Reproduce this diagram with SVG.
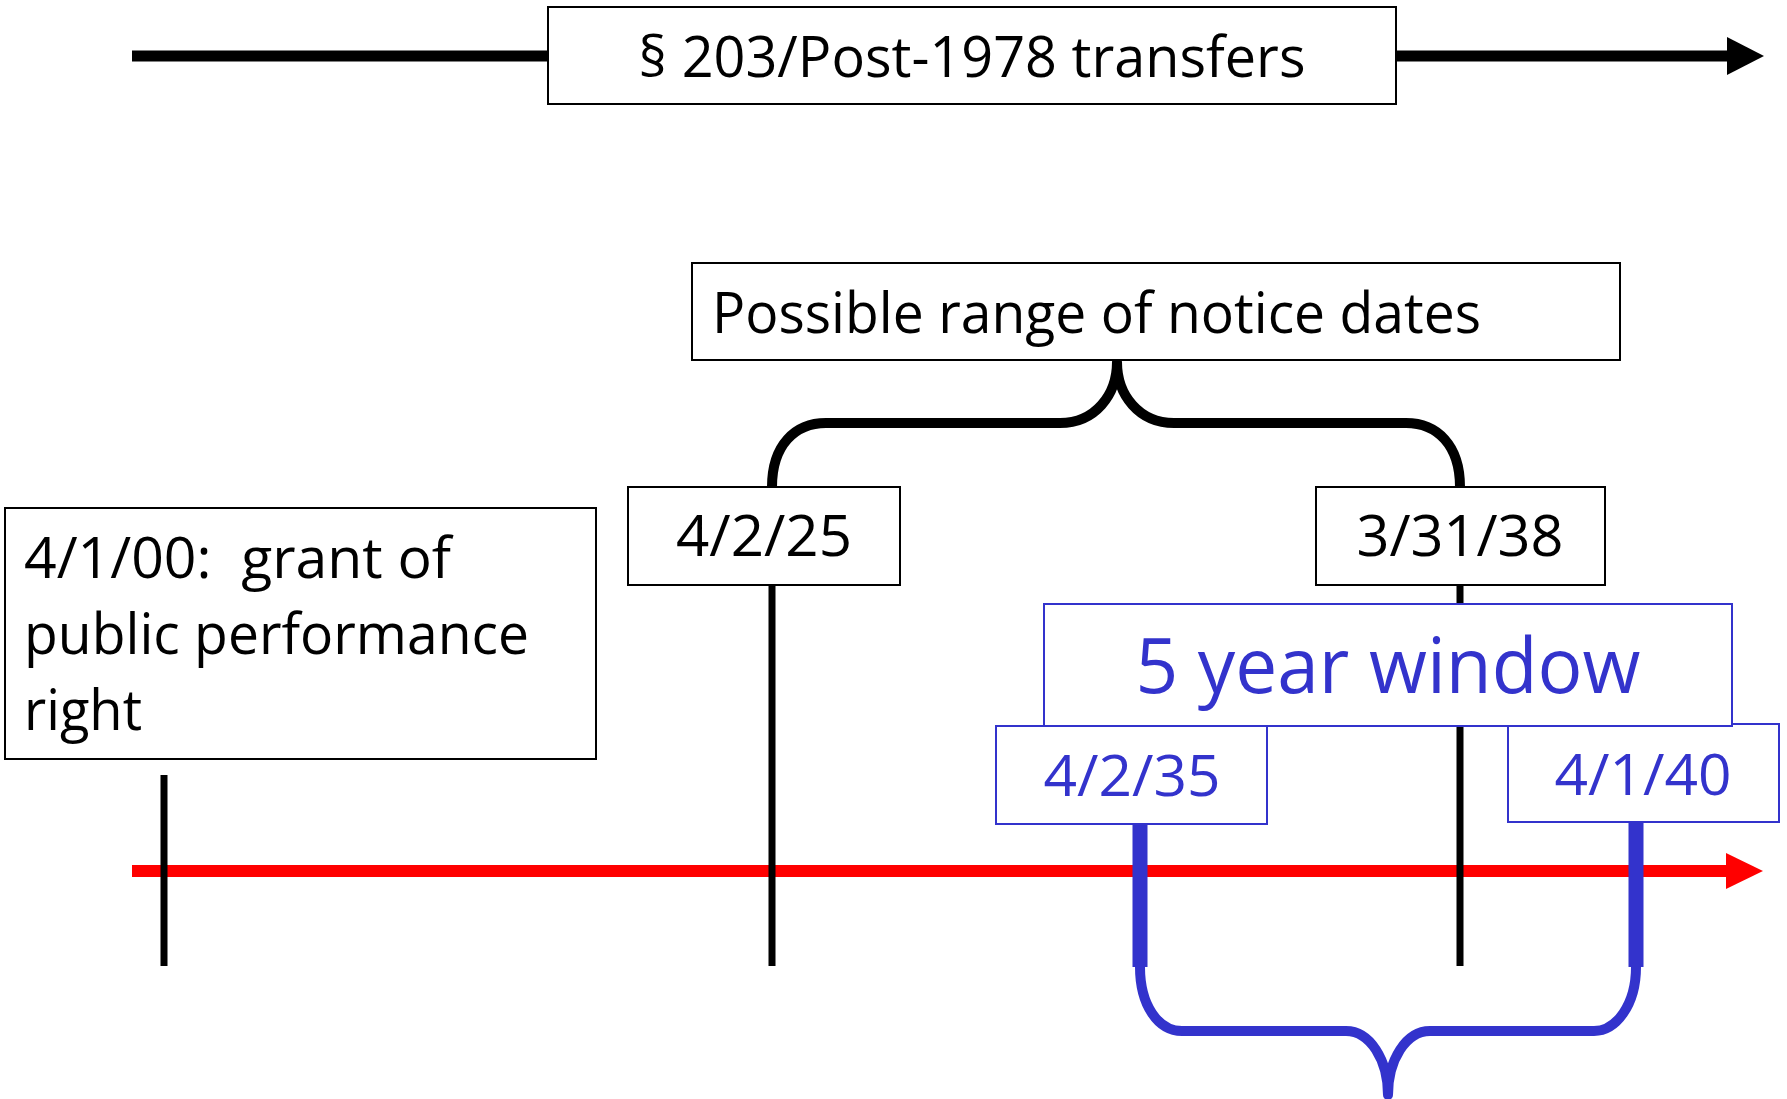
<svg xmlns="http://www.w3.org/2000/svg" width="1787" height="1099" viewBox="0 0 1787 1099">
<style>
  .box { fill: #ffffff; stroke: #000000; stroke-width: 2; }
  .bbox { fill: #ffffff; stroke: #3333cc; stroke-width: 2; }
  .t { font-family: "Open Sans", "Liberation Sans", sans-serif; font-size: 57px; fill: #000000; white-space: pre; }
  .bt { font-family: "Open Sans", "Liberation Sans", sans-serif; font-size: 57px; fill: #3333cc; }
  .big { font-size: 76px; }
  .tick { stroke: #000000; stroke-width: 7; fill: none; }
  .btick { stroke: #3333cc; stroke-width: 15; fill: none; }
  .brace { stroke: #000000; stroke-width: 10; fill: none; stroke-linecap: round; stroke-linejoin: round; }
  .bbrace { stroke: #3333cc; stroke-width: 10; fill: none; stroke-linecap: round; stroke-linejoin: round; }
</style>
<defs>
  <marker id="ahBlack" markerUnits="userSpaceOnUse" markerWidth="37" markerHeight="38" viewBox="0 0 37 38" refX="1" refY="19" orient="auto">
    <path d="M0,0 L37,19 L0,38 z" fill="#000000"/>
  </marker>
  <marker id="ahRed" markerUnits="userSpaceOnUse" markerWidth="37" markerHeight="36" viewBox="0 0 37 36" refX="1" refY="18" orient="auto">
    <path d="M0,0 L37,18 L0,36 z" fill="#ff0000"/>
  </marker>
</defs>
<g id="connectors">
  <line x1="132" y1="56" x2="1728" y2="56" stroke="#000000" stroke-width="11" marker-end="url(#ahBlack)"/>
  <line x1="132" y1="871" x2="1727" y2="871" stroke="#ff0000" stroke-width="12" marker-end="url(#ahRed)"/>
  <line class="tick" x1="164" y1="775" x2="164" y2="966"/>
  <line class="tick" x1="772" y1="585" x2="772" y2="966"/>
  <line class="tick" x1="1460" y1="585" x2="1460" y2="966"/>
  <line class="btick" x1="1140" y1="824" x2="1140" y2="967"/>
  <line class="btick" x1="1636" y1="822" x2="1636" y2="967"/>
  <path class="brace" d="M772,487 C772,445 795,423 826,423 L1060,423 C1095,423 1117,395 1117,362 C1117,395 1139,423 1174,423 L1406,423 C1437,423 1460,445 1460,487"/>
  <path class="bbrace" d="M1140,967 C1140,1005 1158,1031 1182,1031 L1346,1031 C1370,1031 1388,1060 1388,1095 C1388,1060 1406,1031 1430,1031 L1594,1031 C1616,1031 1636,1005 1636,967"/>
</g>
<g id="node-title">
  <rect class="box" x="548" y="7" width="848" height="97"/>
  <text class="t" x="972" y="77" text-anchor="middle" textLength="667" lengthAdjust="spacingAndGlyphs">§ 203/Post-1978 transfers</text>
</g>
<g id="node-range">
  <rect class="box" x="692" y="263" width="928" height="97"/>
  <text class="t" x="712" y="333" textLength="769" lengthAdjust="spacingAndGlyphs">Possible range of notice dates</text>
</g>
<g id="node-grant">
  <rect class="box" x="5" y="508" width="591" height="251"/>
  <text class="t" x="24" y="578" textLength="427" lengthAdjust="spacingAndGlyphs">4/1/00:  grant of</text>
  <text class="t" x="24" y="654" textLength="505" lengthAdjust="spacingAndGlyphs">public performance</text>
  <text class="t" x="24" y="730" textLength="118" lengthAdjust="spacingAndGlyphs">right</text>
</g>
<g id="node-4-2-25">
  <rect class="box" x="628" y="487" width="272" height="98"/>
  <text class="t" x="764" y="556" text-anchor="middle" textLength="176" lengthAdjust="spacingAndGlyphs">4/2/25</text>
</g>
<g id="node-3-31-38">
  <rect class="box" x="1316" y="487" width="289" height="98"/>
  <text class="t" x="1460" y="556" text-anchor="middle" textLength="207" lengthAdjust="spacingAndGlyphs">3/31/38</text>
</g>
<g id="node-4-2-35">
  <rect class="bbox" x="996" y="726" width="271" height="98"/>
  <text class="bt" x="1132" y="796" text-anchor="middle" textLength="177" lengthAdjust="spacingAndGlyphs">4/2/35</text>
</g>
<g id="node-4-1-40">
  <rect class="bbox" x="1508" y="724" width="271" height="98"/>
  <text class="bt" x="1643" y="795" text-anchor="middle" textLength="177" lengthAdjust="spacingAndGlyphs">4/1/40</text>
</g>
<g id="node-window">
  <rect class="bbox" x="1044" y="604" width="688" height="122"/>
  <text class="bt big" x="1388" y="693" text-anchor="middle" textLength="505" lengthAdjust="spacingAndGlyphs">5 year window</text>
</g>
</svg>
